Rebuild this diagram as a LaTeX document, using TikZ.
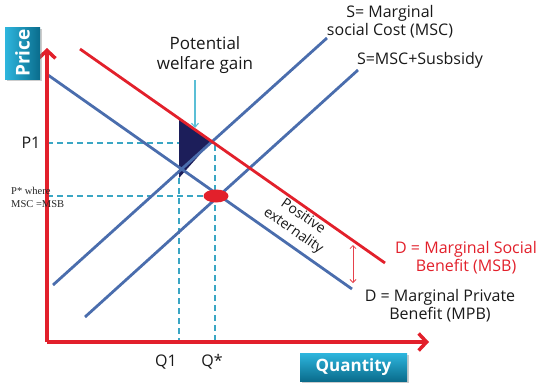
\documentclass[tikz,border=0pt]{standalone}
\usepackage{fontspec}
\setmainfont{Open Sans}
\newfontfamily\serifx{Liberation Serif}
\usetikzlibrary{arrows.meta,shadows,shapes.geometric}
\definecolor{axred}{HTML}{E2202B}
\definecolor{lineblue}{HTML}{4A6DAD}
\definecolor{dashcyan}{HTML}{3AA6C4}
\definecolor{ptrcyan}{HTML}{5BBFD6}
\definecolor{navyfill}{HTML}{1C1E5A}
\definecolor{boxtop}{HTML}{2EB6DE}
\definecolor{boxbot}{HTML}{0A6C8C}
\tikzset{
  axisline/.style={draw=axred, line width=3.5pt, -{Straight Barb[length=8pt,width=17pt,line width=3.5pt]}},
  redline/.style={draw=axred, line width=2.8pt},
  blueline/.style={draw=lineblue, line width=2.8pt},
  guide/.style={draw=dashcyan, line width=1.3pt, dash pattern=on 6pt off 4pt},
  lab/.style={font=\fontsize{16}{18}\selectfont, align=center, inner sep=0pt, text=black!90},
  axlab/.style={font=\fontsize{16}{18}\selectfont, inner sep=0pt, text=black!90},
  tealbox/.style={font=\bfseries\fontsize{17}{18}\selectfont, text=white, inner sep=0pt, drop shadow={shadow xshift=1.5pt, shadow yshift=-1.5pt, opacity=0.4}}
}
\begin{document}
\begin{tikzpicture}[x=1pt,y=-1pt]
\useasboundingbox (0,0) rectangle (550,389);
% coordinates
\coordinate (O) at (47,342);
\coordinate (Ytip) at (47,48);
\coordinate (Xtip) at (429,342);
\coordinate (msbA) at (80,49);
\coordinate (msbB) at (385,263);
\coordinate (mpbA) at (48,75);
\coordinate (mpbB) at (352,289);
\coordinate (mscA) at (53,285);
\coordinate (mscB) at (327,38);
\coordinate (mssA) at (85,317);
\coordinate (mssB) at (358,70);
\coordinate (p1L) at (47,143);
\coordinate (qsT) at (215,143);
\coordinate (qsB) at (215,342);
\coordinate (psL) at (47,196);
\coordinate (psR) at (215,196);
\coordinate (q1T) at (179,178);
\coordinate (q1B) at (179,342);
\coordinate (triA) at (179,119);
\coordinate (triB) at (211,142);
\coordinate (triC) at (179,178);
\coordinate (ptrS) at (195,80);
\coordinate (ptrE) at (195,128);
\coordinate (extT) at (353,245);
\coordinate (extB) at (353,283);

% guides
\draw[guide] (p1L) -- (qsT) -- (qsB);
\draw[guide] (psL) -- (psR);
\draw[guide] (q1T) -- (q1B);

% welfare triangle
\fill[navyfill] (triA) -- (triB) -- (triC) -- cycle;

% curves
\draw[blueline] (mpbA) -- (mpbB);
\draw[blueline] (mscA) -- (mscB);
\draw[blueline] (mssA) -- (mssB);
\draw[redline] (msbA) -- (msbB);

% axes
\draw[axisline] (O) -- (Ytip);
\draw[axisline] (O) -- (Xtip);

% equilibrium
\node[ellipse, fill=axred, minimum width=25pt, minimum height=13pt, inner sep=0pt] (eq) at (216,196) {};

% pointer
\draw[draw=ptrcyan, line width=1.1pt, -{Straight Barb[length=4pt,width=7pt]}] (ptrS) -- (ptrE);
\draw[draw=axred!85, line width=0.8pt, {Straight Barb[length=3pt,width=6pt]}-{Straight Barb[length=3pt,width=6pt]}] (extT) -- (extB);

% labels
\node[lab, font=\fontsize{17}{20}\selectfont] (pwg) at (205,55) {Potential\\welfare gain};
\node[lab] (msclab) at (390,22) {S= Marginal\\social Cost (MSC)};
\node[lab] (msslab) at (420,60) {S=MSC+Susbsidy};
\node[lab, text=axred] (msblab) at (466,258) {D = Marginal Social\\Benefit (MSB)};
\node[lab] (mpblab) at (440,306) {D = Marginal Private\\Benefit (MPB)};
\node[lab, font=\fontsize{14}{17}\selectfont, rotate=-35] (extlab) at (298,224) {Positive\\externality};
\node[axlab] (p1lab) at (31,143) {P1};
\node[anchor=west, align=left, inner sep=0pt, font=\serifx\fontsize{10.5}{13}\selectfont, text=black!85] (pslab) at (11,197) {P* where\\MSC =MSB};
\node[axlab] (q1lab) at (166,362) {Q1};
\node[axlab] (qslab) at (212,362) {Q*};

% teal boxes
\node[tealbox, left color=boxtop, right color=boxbot, minimum width=35pt, minimum height=52pt] (pricebox) at (22.5,53) {};
\node[font=\bfseries\fontsize{19}{20}\selectfont, text=white, rotate=90, inner sep=0pt] (pricetxt) at (pricebox) {Price};
\node[tealbox, top color=boxtop, bottom color=boxbot, minimum width=107pt, minimum height=28pt] (qtybox) at (353.5,367) {Quantity};
\end{tikzpicture}
\end{document}
